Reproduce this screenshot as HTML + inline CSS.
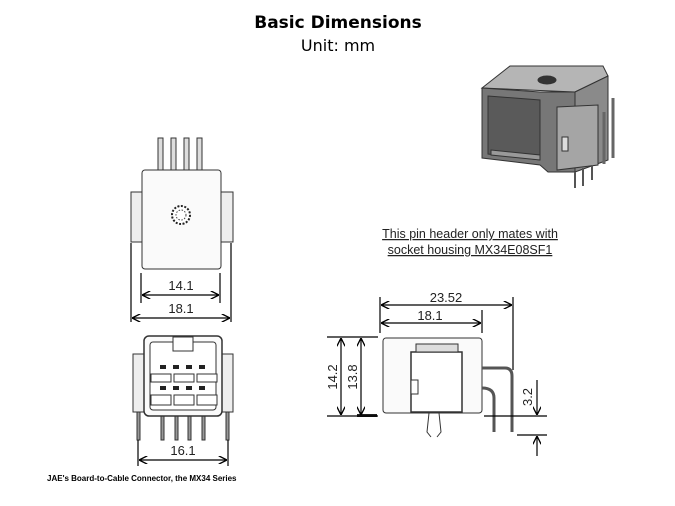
<!DOCTYPE html>
<html><head><style>
html,body{margin:0;padding:0;background:#fff}
svg{display:block}
</style></head><body>
<svg width="675" height="506" viewBox="0 0 675 506" xmlns="http://www.w3.org/2000/svg">
<defs>
<marker id="a" viewBox="0 0 10 10" refX="10" refY="5" markerWidth="7" markerHeight="7" orient="auto-start-reverse"><path d="M0,0 L10,5 L0,10" fill="none" stroke="#000" stroke-width="1.6"/></marker>
</defs>
<text x="338" y="28" text-anchor="middle" font-family="DejaVu Sans,sans-serif" font-weight="bold" font-size="17">Basic Dimensions</text>
<text x="338" y="51" text-anchor="middle" font-family="DejaVu Sans,sans-serif" font-size="16">Unit: mm</text>

<g stroke="#333" fill="#fff" stroke-width="1">
<rect x="158" y="138" width="5" height="33" fill="#ddd"/><rect x="171" y="138" width="5" height="33" fill="#ddd"/><rect x="184" y="138" width="5" height="33" fill="#ddd"/><rect x="197" y="138" width="5" height="33" fill="#ddd"/>
<rect x="131" y="192" width="12" height="50" fill="#eee"/><rect x="221" y="192" width="12" height="50" fill="#eee"/>
<rect x="142" y="170" width="79" height="99" rx="3" fill="#fafafa"/>
<circle cx="181" cy="215" r="9" fill="#fff" stroke="#222" stroke-width="2" stroke-dasharray="2 1.5"/>
<circle cx="181" cy="215" r="5" fill="none" stroke="#444" stroke-dasharray="1.5 1.5"/>
<rect x="133" y="354" width="11" height="58" fill="#eee"/><rect x="222" y="354" width="11" height="58" fill="#eee"/>
<rect x="137" y="412" width="3" height="28" fill="#999"/><rect x="226" y="412" width="3" height="28" fill="#999"/>
<rect x="161" y="415" width="3" height="25" fill="#999"/><rect x="175" y="415" width="3" height="25" fill="#999"/><rect x="188" y="415" width="3" height="25" fill="#999"/><rect x="202" y="415" width="3" height="25" fill="#999"/>
<rect x="144" y="336" width="78" height="80" rx="5" fill="#fafafa" stroke-width="1.5"/>
<rect x="150" y="342" width="66" height="68" rx="3" fill="#fff"/>
<rect x="173" y="337" width="20" height="14" fill="#fff"/>
<g fill="#222" stroke="none"><rect x="160" y="365" width="6" height="4"/><rect x="173" y="365" width="6" height="4"/><rect x="186" y="365" width="6" height="4"/><rect x="199" y="365" width="6" height="4"/>
<rect x="160" y="386" width="6" height="4"/><rect x="173" y="386" width="6" height="4"/><rect x="186" y="386" width="6" height="4"/><rect x="199" y="386" width="6" height="4"/></g>
<rect x="151" y="374" width="20" height="8"/><rect x="174" y="374" width="20" height="8"/><rect x="197" y="374" width="20" height="8"/>
<rect x="151" y="395" width="20" height="10"/><rect x="174" y="395" width="20" height="10"/><rect x="197" y="395" width="20" height="10"/>
<rect x="383" y="338" width="99" height="75" rx="3" fill="#fafafa"/>
<rect x="411" y="352" width="51" height="60" fill="#fff" stroke-width="1.5"/>
<path d="M416,344 H458 V352 H416Z" fill="#ddd"/>
<rect x="411" y="380" width="7" height="14"/>
<path d="M482,368 H505 Q512,368 512,376 V432" fill="none" stroke="#555" stroke-width="3"/>
<path d="M482,388 Q494,388 494,398 V432" fill="none" stroke="#555" stroke-width="3"/>
<path d="M429,413 L427,432 L431,437 M439,413 L441,432 L437,437" fill="none"/>
</g>
<rect x="357" y="414" width="20" height="3" fill="#222"/>

<!-- 3D iso approx -->
<g stroke="#333" stroke-width="1">
<path d="M482,88 L510,66 L603,66 L608,76 L575,92 Z" fill="#b5b5b5"/>
<path d="M482,88 L540,92 L575,92 L575,172 L548,172 L540,165 L482,158 Z" fill="#777"/>
<path d="M488,96 L540,100 L540,160 L488,154 Z" fill="#5a5a5a"/>
<path d="M491,150 L540,155 L540,160 L491,155 Z" fill="#999"/>
<path d="M575,92 L608,76 L608,160 L575,172 Z" fill="#8a8a8a"/>
<path d="M557,107 L598,105 L598,165 L557,170 Z" fill="#a5a5a5"/>
<rect x="562" y="137" width="6" height="14" fill="#ddd"/>
<ellipse cx="547" cy="80" rx="9" ry="4" fill="#333"/>
<path d="M613,98 V158 M604,112 V164" stroke="#666" stroke-width="3" fill="none"/>
<path d="M575,172 V188 M583,168 V186 M592,165 V180" stroke="#555" stroke-width="2"/>
</g>

<g stroke="#000" stroke-width="1.2" fill="none">
<path d="M141,273 V303 M220,273 V303 M131,243 V322 M231,243 V322"/>
<path d="M142,295 H219" marker-start="url(#a)" marker-end="url(#a)"/>
<path d="M132,318 H230" marker-start="url(#a)" marker-end="url(#a)"/>
<path d="M138,440 V466 M228,440 V466"/>
<path d="M139,460 H227" marker-start="url(#a)" marker-end="url(#a)"/>
<path d="M380,297 V333 M513,297 V370 M482,310 V333"/>
<path d="M381,305 H512" marker-start="url(#a)" marker-end="url(#a)"/>
<path d="M381,323 H481" marker-start="url(#a)" marker-end="url(#a)"/>
<path d="M327,337 H378 M327,416 H378 M484,416 H547 M517,435 H547"/>
<path d="M341,338 V415" marker-start="url(#a)" marker-end="url(#a)"/>
<path d="M361,338 V415" marker-start="url(#a)" marker-end="url(#a)"/>
<path d="M537,380 V415" marker-end="url(#a)"/>
<path d="M537,456 V436" marker-end="url(#a)"/>
</g>
<g font-family="Liberation Sans,sans-serif" font-size="13" fill="#222" text-anchor="middle">
<text x="181" y="290">14.1</text>
<text x="181" y="313">18.1</text>
<text x="183" y="455">16.1</text>
<text x="446" y="302">23.52</text>
<text x="430" y="320">18.1</text>
<text transform="translate(337,377) rotate(-90)">14.2</text>
<text transform="translate(357,377) rotate(-90)">13.8</text>
<text transform="translate(532,397) rotate(-90)">3.2</text>
<text x="470" y="238" text-decoration="underline" font-size="12.5">This pin header only mates with</text>
<text x="470" y="254" text-decoration="underline" font-size="12.5">socket housing MX34E08SF1</text>
</g>
<text x="47" y="481" font-family="Liberation Sans,sans-serif" font-weight="bold" font-size="8">JAE's Board-to-Cable Connector, the MX34 Series</text>
</svg>
</body></html>
